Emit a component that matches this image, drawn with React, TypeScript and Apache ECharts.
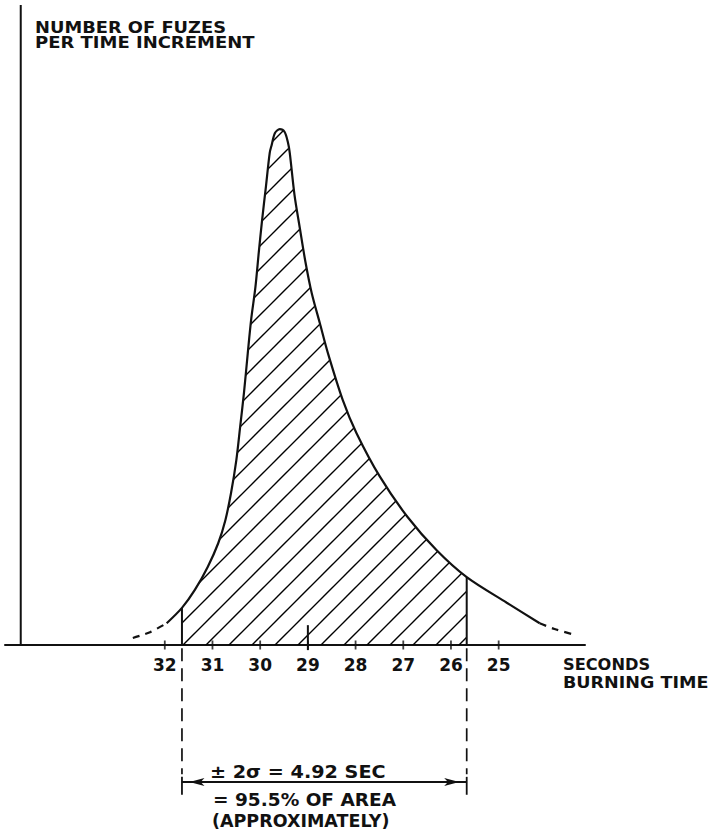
import React, { useEffect, useRef } from "react";
import * as echarts from "echarts";

// ---- data ----
const xTickValues = [32, 31, 30, 29, 28, 27, 26, 25];
// burning time (s) and relative number of fuzes per time increment
const curveX = [
  32.67, 32.31, 31.96, 31.64, 31.37, 31.1, 30.88, 30.73, 30.61, 30.5, 30.42, 30.34, 30.26, 30.19, 30.1, 30.03,
  29.96, 29.88, 29.8, 29.76, 29.69, 29.59, 29.49, 29.42, 29.38, 29.28, 29.17, 29.05, 28.92, 28.75, 28.58, 28.27,
  27.98, 27.49, 26.91, 26.3, 25.67, 24.83, 24.14, 23.83, 23.41,
];
const curveY = [
  1.1, 2.0, 3.4, 5.8, 8.6, 12.2, 15.9, 19.5, 23.8, 28.9, 34.1, 39.4, 45.6, 50.8, 55.9, 61.3,
  66.4, 71.6, 76.9, 78.1, 80.0, 80.6, 80.2, 78.6, 76.9, 70.3, 65.2, 59.8, 55.0, 50.3, 45.6, 38.3,
  33.1, 26.3, 20.0, 14.8, 10.6, 6.6, 3.4, 2.5, 1.6,
];
const solidFrom = 31.96;
const solidTo = 24.14;
const hatchFrom = 31.64; // -2 sigma
const hatchTo = 25.67; // +2 sigma
const meanValue = 29;

// axis extents
const xMin = 23.19;
const xMax = 35.35;
const yMin = 0;
const yMax = 100;
const yAxisAtX = 35.02;
const meanMark = [-0.8, 3.1];
const dropLine = [-0.5, -20.2];
const endBar = [-20.6, -23.4];
const braceLevel = -21.4;

const FONT = '"DejaVu Sans", "Liberation Sans", sans-serif';
const INK = "#111";

function seg(a: number, b: number) {
  const lo = Math.min(a, b);
  const hi = Math.max(a, b);
  const out: number[][] = [];
  curveX.forEach((x, i) => {
    if (x >= lo - 1e-9 && x <= hi + 1e-9) out.push([x, curveY[i]]);
  });
  return out;
}
function valueAt(x: number) {
  return curveY[curveX.indexOf(x)];
}

export default function App() {
  const ref = useRef<HTMLDivElement>(null);
  useEffect(() => {
    document.body.style.margin = "0";
    const chart = echarts.init(ref.current!, null, { renderer: "svg" });

    const tile = 23;
    const c = document.createElement("canvas");
    c.width = tile;
    c.height = tile;
    const g = c.getContext("2d")!;
    g.strokeStyle = "#000";
    g.lineWidth = 1.4;
    g.beginPath();
    g.moveTo(0, tile);
    g.lineTo(tile, 0);
    g.moveTo(-3, 3);
    g.lineTo(3, -3);
    g.moveTo(tile - 3, tile + 3);
    g.lineTo(tile + 3, tile - 3);
    g.stroke();

    const simpleLine = (data: any[], w: number, type: any = "solid", extra: any = {}) => ({
      type: "line",
      data,
      showSymbol: false,
      symbol: "none",
      silent: true,
      clip: false,
      lineStyle: { color: INK, width: w, type },
      z: 5,
      ...extra,
    });

    const texts = [
      { t: "NUMBER OF FUZES", x: 35, y: 28, size: 15, sx: 1.19 },
      { t: "PER TIME INCREMENT", x: 35, y: 43, size: 15, sx: 1.2 },
      { t: "SECONDS", x: 563, y: 665, size: 15, sx: 1.08 },
      { t: "BURNING TIME", x: 563, y: 683, size: 15, sx: 1.17 },
      { t: "± 2σ = 4.92 SEC", x: 210, y: 772, size: 17, sx: 1.13 },
      { t: "= 95.5% OF AREA", x: 213, y: 800, size: 17, sx: 1.09 },
      { t: "(APPROXIMATELY)", x: 212, y: 821, size: 17, sx: 1.03 },
    ];

    chart.setOption({
      animation: false,
      grid: { left: 5, right: 125, top: 5, bottom: 186, outerBoundsMode: "none" },
      xAxis: {
        type: "value",
        inverse: true,
        min: xMin,
        max: xMax,
        splitLine: { show: false },
        axisTick: { show: false },
        axisLine: { show: true, onZero: false, lineStyle: { color: INK, width: 2 } },
        axisLabel: {
          customValues: xTickValues,
          margin: 11,
          color: INK,
          fontSize: 17,
          fontWeight: "bold",
          fontFamily: FONT,
          formatter: (v: number) => String(Math.round(v)),
        },
      },
      yAxis: { type: "value", min: yMin, max: yMax, show: false },
      graphic: texts.map((o) => ({
        type: "text",
        x: o.x,
        y: o.y,
        scaleX: o.sx,
        silent: true,
        style: {
          text: o.t,
          fill: INK,
          font: `bold ${o.size}px ${FONT}`,
          textAlign: "left",
          textVerticalAlign: "middle",
        },
      })),
      series: [
        {
          type: "line",
          data: seg(hatchFrom, hatchTo),
          smooth: 0.3,
          showSymbol: false,
          symbol: "none",
          silent: true,
          lineStyle: { width: 0 },
          areaStyle: {
            color: { image: c, repeat: "repeat", imageWidth: tile, imageHeight: tile },
            opacity: 1,
          },
          z: 2,
        },
        simpleLine(seg(solidFrom, solidTo), 2.2, "solid", { smooth: 0.3 }),
        simpleLine(seg(solidFrom, 40), 2.2, [7, 6], { smooth: 0.3 }),
        simpleLine(seg(solidTo, 0), 2.2, [7, 6], { smooth: 0.3 }),
        simpleLine([[hatchFrom, 0], [hatchFrom, valueAt(hatchFrom)]], 2),
        simpleLine([[hatchTo, 0], [hatchTo, valueAt(hatchTo)]], 2),
        simpleLine([[meanValue, meanMark[0]], [meanValue, meanMark[1]]], 2),
        simpleLine([[yAxisAtX, 0], [yAxisAtX, yMax]], 2),
        simpleLine([[hatchFrom, dropLine[0]], [hatchFrom, dropLine[1]]], 1.7, [13, 7]),
        simpleLine([[hatchTo, dropLine[0]], [hatchTo, dropLine[1]]], 1.7, [13, 7]),
        simpleLine([[hatchFrom, endBar[0]], [hatchFrom, endBar[1]]], 1.8),
        simpleLine([[hatchTo, endBar[0]], [hatchTo, endBar[1]]], 1.8),
        simpleLine(
          [
            { value: [hatchFrom, braceLevel], symbolRotate: 90, symbolOffset: [7.5, 0] },
            { value: [hatchTo, braceLevel], symbolRotate: -90, symbolOffset: [-7.5, 0] },
          ],
          2,
          "solid",
          { symbol: "arrow", showSymbol: true, showAllSymbol: true, symbolSize: [6, 15], itemStyle: { color: INK } }
        ),
        {
          type: "scatter",
          data: xTickValues.map((v) => [v, 0]),
          symbol: "rect",
          symbolSize: [1.8, 9],
          silent: true,
          clip: false,
          itemStyle: { color: INK },
          z: 6,
        },
      ],
    });
    return () => chart.dispose();
  }, []);
  return <div ref={ref} style={{ width: 710, height: 831 }} />;
}
